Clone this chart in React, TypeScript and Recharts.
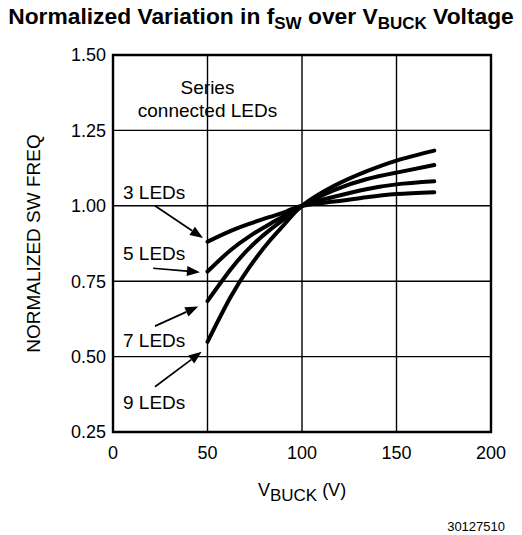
import React from "react";
import {
  LineChart,
  Line,
  XAxis,
  YAxis,
  CartesianGrid,
  ReferenceArea,
  ReferenceLine,
  ReferenceDot,
  Label,
} from "recharts";

// V_BUCK (V)
const volts = [50, 62, 72, 83, 92, 100, 117, 134, 150, 170];
// normalized switching frequency per LED count
const leds3 = [0.881, 0.916, 0.94, 0.963, 0.982, 1.0, 1.014, 1.028, 1.039, 1.045];
const leds5 = [0.782, 0.852, 0.898, 0.94, 0.972, 1.0, 1.03, 1.055, 1.071, 1.081];
const leds7 = [0.684, 0.787, 0.859, 0.92, 0.963, 1.0, 1.052, 1.088, 1.11, 1.135];
const leds9 = [0.549, 0.695, 0.795, 0.885, 0.948, 1.0, 1.066, 1.114, 1.15, 1.183];

const xTicks = [0, 50, 100, 150, 200];
const yTicks = [0.25, 0.5, 0.75, 1.0, 1.25, 1.5];

// annotation labels (data coords, left-aligned)
const noteText = ["3 LEDs", "5 LEDs", "7 LEDs", "9 LEDs"];
const noteX = [5.3, 5.3, 5.3, 5.3];
const noteY = [1.046, 0.842, 0.555, 0.35];
// arrows: from -> to (data coords)
const arrowFrom = [
  [22.2, 1.0],
  [21.3, 0.793],
  [22.2, 0.601],
  [22.2, 0.4],
];
const arrowTo = [
  [47.6, 0.893],
  [46.0, 0.78],
  [45.1, 0.666],
  [46.9, 0.516],
];
const seriesNote = ["Series", "connected LEDs"];
const seriesNoteY = [1.395, 1.318];

const data = volts.map((v, i) => ({
  v,
  l3: leds3[i],
  l5: leds5[i],
  l7: leds7[i],
  l9: leds9[i],
}));

const FONT = "'Liberation Sans', Arial, sans-serif";

const Arrow = (props: any) => {
  const { x1, y1, x2, y2 } = props;
  const ang = Math.atan2(y2 - y1, x2 - x1);
  const len = 13;
  const w = 5;
  const bx = x2 - len * Math.cos(ang);
  const by = y2 - len * Math.sin(ang);
  const px = -Math.sin(ang) * w;
  const py = Math.cos(ang) * w;
  return (
    <g>
      <line x1={x1} y1={y1} x2={bx} y2={by} stroke="#000" strokeWidth={1.7} />
      <polygon
        points={`${x2},${y2} ${bx + px},${by + py} ${bx - px},${by - py}`}
        fill="#000"
      />
    </g>
  );
};

const XTitle = (props: any) => {
  const { viewBox } = props;
  return (
    <text
      x={viewBox.x + viewBox.width / 2}
      y={viewBox.y + 64}
      textAnchor="middle"
      fontSize={18}
      fontFamily={FONT}
      fill="#000"
    >
      V
      <tspan fontSize={17} dy={5}>
        BUCK
      </tspan>
      <tspan dy={-5}> (V)</tspan>
    </text>
  );
};

const YTitle = (props: any) => {
  const { viewBox } = props;
  const cx = 40;
  const cy = viewBox.y + viewBox.height / 2;
  return (
    <text
      x={cx}
      y={cy}
      transform={`rotate(-90 ${cx} ${cy})`}
      textAnchor="middle"
      fontSize={19}
      fontFamily={FONT}
      fill="#000"
    >
      NORMALIZED SW FREQ
    </text>
  );
};

export default function App() {
  return (
    <div
      style={{
        position: "absolute",
        left: 0,
        top: 0,
        width: 522,
        height: 535,
        background: "#fff",
        fontFamily: FONT,
      }}
    >
      <div
        style={{
          position: "absolute",
          top: 3,
          left: 0,
          width: 522,
          textAlign: "center",
          fontWeight: "bold",
          fontSize: 22.8,
          whiteSpace: "nowrap",
        }}
      >
        Normalized Variation in f
        <span style={{ fontSize: 17, position: "relative", top: 5 }}>SW</span> over V
        <span style={{ fontSize: 17, position: "relative", top: 5 }}>BUCK</span> Voltage
      </div>

      <LineChart
        width={522}
        height={535}
        data={data}
        margin={{ top: 55, right: 31, left: 33, bottom: 73 }}
        style={{ position: "absolute", left: 0, top: 0 }}
      >
        <CartesianGrid stroke="#000" strokeWidth={1.4} />
        <XAxis
          dataKey="v"
          type="number"
          domain={[0, 200]}
          ticks={xTicks}
          height={30}
          tickLine={false}
          axisLine={false}
          tickMargin={8}
          tick={{ fill: "#000", fontSize: 18, fontFamily: FONT }}
        >
          <Label content={<XTitle />} />
        </XAxis>
        <YAxis
          type="number"
          domain={[0.25, 1.5]}
          ticks={yTicks}
          width={80}
          tickLine={false}
          axisLine={false}
          tickMargin={1}
          tickFormatter={(v: number) => v.toFixed(2)}
          tick={{ fill: "#000", fontSize: 18, fontFamily: FONT }}
        >
          <Label content={<YTitle />} />
        </YAxis>

        <ReferenceArea
          x1={0}
          x2={200}
          y1={0.25}
          y2={1.5}
          fill="none"
          stroke="#000"
          strokeWidth={2.4}
          fillOpacity={0}
        />

        {seriesNote.map((t, i) => (
          <ReferenceDot
            key={t}
            x={50}
            y={seriesNoteY[i]}
            r={0}
            shape={(p: any) => (
              <text
                x={p.cx}
                y={p.cy + 7}
                textAnchor="middle"
                fontSize={19}
                fontFamily={FONT}
                fill="#000"
              >
                {t}
              </text>
            )}
          />
        ))}

        {noteText.map((t, i) => (
          <ReferenceDot
            key={t}
            x={noteX[i]}
            y={noteY[i]}
            r={0}
            shape={(p: any) => (
              <text
                x={p.cx}
                y={p.cy + 7}
                textAnchor="start"
                fontSize={19}
                fontFamily={FONT}
                fill="#000"
              >
                {t}
              </text>
            )}
          />
        ))}

        {arrowFrom.map((f, i) => (
          <ReferenceLine
            key={"a" + i}
            segment={[
              { x: f[0], y: f[1] },
              { x: arrowTo[i][0], y: arrowTo[i][1] },
            ]}
            shape={<Arrow />}
          />
        ))}

        <Line type="natural" dataKey="l3" stroke="#000" strokeWidth={4} strokeLinecap="round" dot={false} isAnimationActive={false} />
        <Line type="natural" dataKey="l5" stroke="#000" strokeWidth={4} strokeLinecap="round" dot={false} isAnimationActive={false} />
        <Line type="natural" dataKey="l7" stroke="#000" strokeWidth={4} strokeLinecap="round" dot={false} isAnimationActive={false} />
        <Line type="natural" dataKey="l9" stroke="#000" strokeWidth={4} strokeLinecap="round" dot={false} isAnimationActive={false} />
      </LineChart>

      <div
        style={{
          position: "absolute",
          right: 17,
          top: 519,
          fontSize: 13,
        }}
      >
        30127510
      </div>
    </div>
  );
}
